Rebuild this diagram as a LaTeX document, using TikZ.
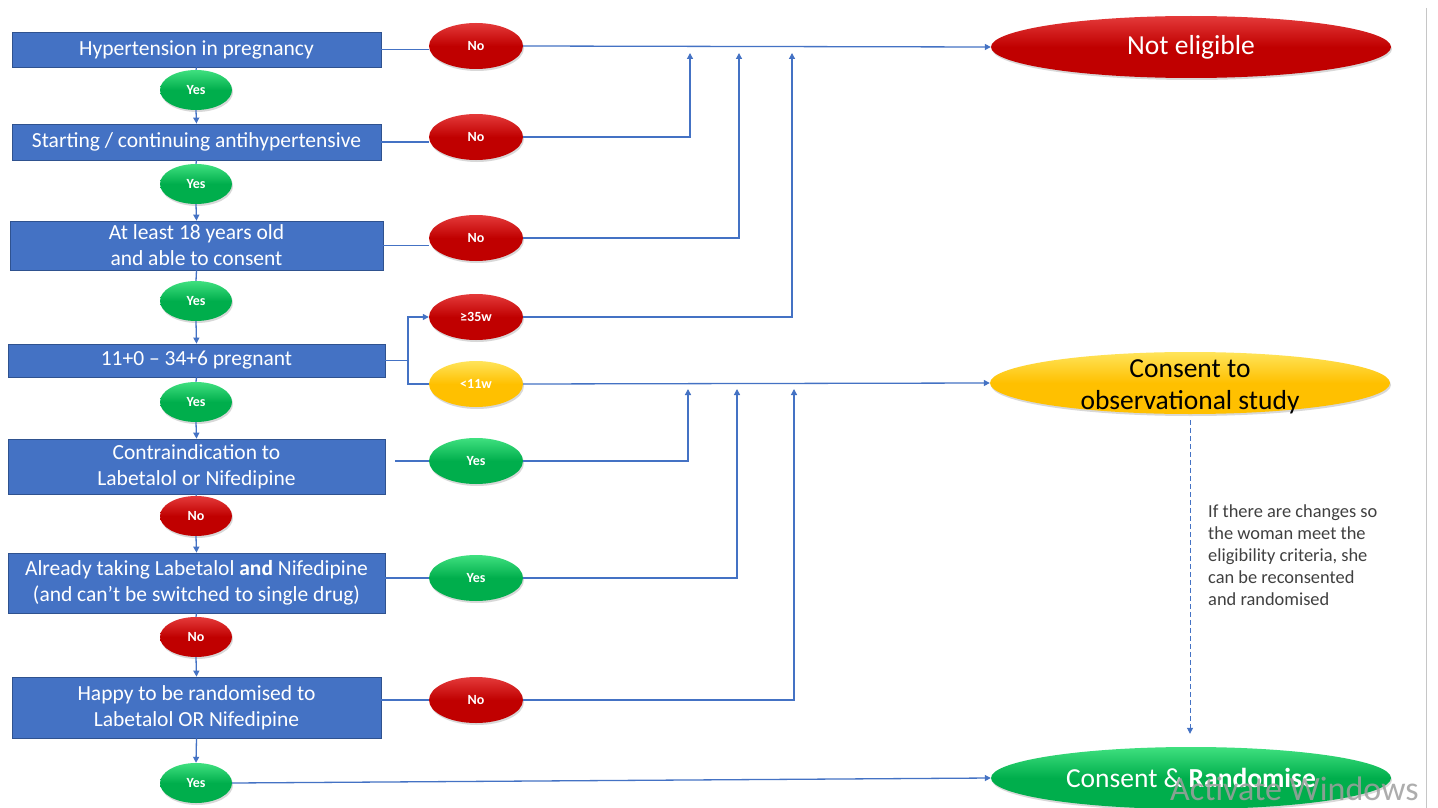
\documentclass[tikz,border=0pt]{standalone}
\usepackage{fontspec}
\setmainfont{Carlito}
\usetikzlibrary{shapes.geometric,arrows.meta,shadows}
\definecolor{boxblue}{HTML}{4472C4}
\definecolor{boxedge}{HTML}{2F528F}
\definecolor{linkblue}{HTML}{4472C4}
\definecolor{redA}{HTML}{E43A3A}
\definecolor{redB}{HTML}{C00000}
\definecolor{greenA}{HTML}{3FE07F}
\definecolor{greenB}{HTML}{00AE4C}
\definecolor{yelA}{HTML}{FFE45A}
\definecolor{yelB}{HTML}{FFC000}
\definecolor{notegray}{HTML}{404040}
\tikzset{
  crit/.style={draw=boxedge, line width=0.8pt, fill=boxblue, text=white,
    font=\fontsize{21.5}{26}\selectfont, align=center, inner sep=0pt},
  oval/.style={ellipse, inner sep=0pt, text=white,
    font=\bfseries\fontsize{14}{16}\selectfont,
    drop shadow={opacity=0.3, shadow xshift=1pt, shadow yshift=-2pt}},
  smallov/.style={oval, minimum width=72pt, minimum height=40pt},
  sideov/.style={oval, minimum width=94pt, minimum height=46pt},
  bigov/.style={oval, minimum width=400pt, minimum height=62pt,
    font=\fontsize{27.5}{32}\selectfont},
  redov/.style={top color=redA, bottom color=redB, middle color=redB},
  greenov/.style={top color=greenA, bottom color=greenB, middle color=greenB},
  yelov/.style={top color=yelA, bottom color=yelB, middle color=yelB},
  link/.style={draw=linkblue, line width=1.3pt},
  arr/.style={link, -{Triangle[length=6pt,width=6pt]}},
}
\begin{document}
\begin{tikzpicture}[x=1pt,y=-1pt]
\useasboundingbox[fill=white] (0,0) rectangle (1438,808);
\draw[gray!45, line width=1pt] (1426,8) -- (1426,808);

% criteria boxes
\node[crit, minimum width=369pt, minimum height=35pt] (b1) at (196.5,49.5) {Hypertension in pregnancy};
\node[crit, minimum width=369pt, minimum height=36pt] (b2) at (196.5,142) {Starting / continuing antihypertensive};
\node[crit, minimum width=373pt, minimum height=49pt] (b3) at (196.5,245.5) {At least 18 years old\\and able to consent};
\node[crit, minimum width=377pt, minimum height=33pt] (b4) at (196.5,360.5) {11+0 -- 34+6 pregnant};
\node[crit, minimum width=377pt, minimum height=55pt] (b5) at (196.5,466.5) {Contraindication to\\Labetalol or Nifedipine};
\node[crit, minimum width=377pt, minimum height=60pt] (b6) at (196.5,583) {Already taking Labetalol \textbf{and} Nifedipine\\(and can’t be switched to single drug)};
\node[crit, minimum width=369pt, minimum height=61pt] (b7) at (196.5,707.5) {Happy to be randomised to\\Labetalol OR Nifedipine};

% column ovals
\node[smallov, greenov] (y1) at (196,90) {Yes};
\node[smallov, greenov] (y2) at (196,184) {Yes};
\node[smallov, greenov] (y3) at (196,301) {Yes};
\node[smallov, greenov] (y4) at (196,402) {Yes};
\node[smallov, redov] (y5) at (196,516) {No};
\node[smallov, redov] (y6) at (196,637) {No};
\node[smallov, greenov] (y7) at (196,783) {Yes};

% side ovals
\node[sideov, redov] (n1) at (476,46) {No};
\node[sideov, redov] (n2) at (476,137) {No};
\node[sideov, redov] (n3) at (476,238) {No};
\node[sideov, redov] (n35) at (476,317) {≥35w};
\node[sideov, yelov] (n11) at (476,384) {<11w};
\node[sideov, greenov] (n5) at (476,461) {Yes};
\node[sideov, greenov] (n6) at (476,578) {Yes};
\node[sideov, redov] (n7) at (476,700) {No};

% outcome ovals
\node[bigov, redov] (ne) at (1191,47) {Not eligible};
\node[bigov, yelov] (cobs) at (1190,383) {};
\node[text=black, font=\fontsize{27.5}{32}\selectfont, align=center, inner sep=0pt] (cobst) at (1190,387) {Consent to\\observational study};
\node[bigov, greenov] (crand) at (1191,778) {Consent \&\ \textbf{Randomise}};

% vertical flow
\foreach \b/\y/\n in {b1/y1/b2, b2/y2/b3, b3/y3/b4, b4/y4/b5, b5/y5/b6, b6/y6/b7} {
  \draw[link] (\b.south) -- (\y.north);
  \draw[arr] (\y.south) -- (\n.north);
}
\draw[arr] (b7.south) -- (y7.north);

% box to side ovals
\draw[link] (b1.east) -- (b1.east -| n1.west);
\draw[link] (b2.east) -- (b2.east -| n2.west);
\draw[link] (b3.east) -- (b3.east -| n3.west);
\coordinate (sp) at (408,360.5);
\draw[link] (b4.east) -- (sp);
\draw[arr] (sp) |- (n35.west);
\draw[link] (sp) |- (n11.west);
\draw[link] ([xshift=10pt]b5.east |- n5.west) -- (n5.west);
\draw[link] (b6.east |- n6.west) -- (n6.west);
\draw[link] (b7.east |- n7.west) -- (n7.west);

% to Not eligible
\draw[arr] (n1.east) -- (ne.west);
\coordinate (a2) at (690,53);
\coordinate (a3) at (739,53);
\coordinate (a4) at (792,53);
\draw[arr] (n2.east) -| (a2);
\draw[arr] (n3.east) -| (a3);
\draw[arr] (n35.east) -| (a4);

% to observational study
\draw[arr] (n11.east) -- (cobs.west);
\coordinate (c5) at (688,389);
\coordinate (c6) at (737,389);
\coordinate (c7) at (794,389);
\draw[arr] (n5.east) -| (c5);
\draw[arr] (n6.east) -| (c6);
\draw[arr] (n7.east) -| (c7);

% to randomise
\draw[arr] (y7.east) -- (crand.west);
\draw[link, line width=1pt, dash pattern=on 5pt off 3pt, shorten <=6pt, shorten >=13pt, -{Triangle[length=6pt,width=6pt]}] (cobs.south) -- (cobs.south |- crand.north);

\node[anchor=north west, align=left, inner sep=0pt, text=notegray,
  font=\fontsize{18.4}{22}\selectfont] (note) at (1208,505)
  {If there are changes so\\the woman meet the\\eligibility criteria, she\\can be reconsented\\and randomised};

\node[text=gray!75, opacity=0.85, font=\fontsize{34}{34}\selectfont, inner sep=0pt, anchor=base west] (wm) at (1170,800) {Activate Windows};
\end{tikzpicture}
\end{document}
